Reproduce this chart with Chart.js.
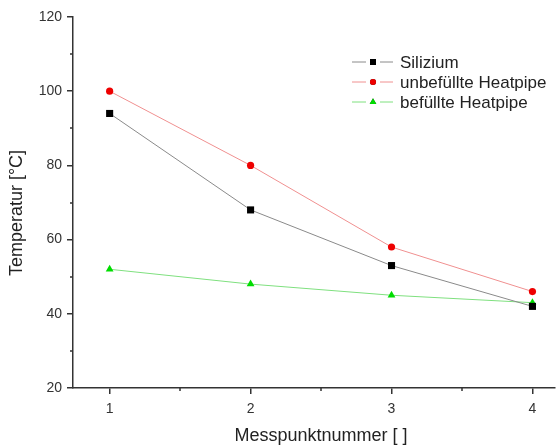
<!DOCTYPE html>
<html>
<head>
<meta charset="utf-8">
<script src="https://cdn.jsdelivr.net/npm/chart.js@4.4.0/dist/chart.umd.min.js"></script>
<style>
  html, body { margin: 0; padding: 0; background: #fff; }
  #wrap { width: 560px; height: 445px; }
</style>
</head>
<body>
<div id="wrap"><canvas id="chart" width="560" height="445"></canvas></div>
<script>
const messpunkte = [1, 2, 3, 4];
const silizium = [94, 68, 53, 42];
const unbefuellt = [100, 80, 58, 46];
const befuellt = [52, 48, 45, 43];
const seriesNames = ['Silizium', 'unbefüllte Heatpipe', 'befüllte Heatpipe'];
const xTicks = [1, 2, 3, 4];
const yTicks = [20, 40, 60, 80, 100, 120];
const xTitle = 'Messpunktnummer [ ]';
const yTitle = 'Temperatur [°C]';

const FONT = 'Liberation Sans, Arial, sans-serif';

function toPoints(values) {
    return values.map((v, i) => ({ x: messpunkte[i], y: v }));
}

// legend drawn inside the plot area, Origin-style
const innerLegend = {
    id: 'innerLegend',
    afterDraw(chart) {
        const ctx = chart.ctx;
        const x0 = 352, y0 = 62, step = 20;
        ctx.save();
        chart.data.datasets.forEach((ds, i) => {
            const y = y0 + i * step;
            const mid = x0 + 21;
            ctx.strokeStyle = ds.borderColor;
            ctx.lineWidth = 1;
            ctx.beginPath();
            ctx.moveTo(x0, y);
            ctx.lineTo(mid - 7, y);
            ctx.moveTo(mid + 7, y);
            ctx.lineTo(x0 + 41, y);
            ctx.stroke();
            Chart.helpers.drawPoint(ctx, {
                pointStyle: ds.pointStyle,
                radius: ds.pointRadius * 0.85,
                rotation: 0,
                borderWidth: 0
            }, mid, y);
            ctx.fillStyle = ds.pointBackgroundColor;
            ctx.fill();
            ctx.fillStyle = '#222';
            ctx.font = '17px ' + FONT;
            ctx.textBaseline = 'middle';
            ctx.textAlign = 'left';
            ctx.fillText(ds.label, 400, y + 1);
        });
        ctx.restore();
    }
};

// short minor ticks and the axis titles
const axisExtras = {
    id: 'axisExtras',
    afterDraw(chart) {
        const ctx = chart.ctx;
        const xs = chart.scales.x, ys = chart.scales.y;
        ctx.save();
        ctx.strokeStyle = '#333';
        ctx.lineWidth = 1.5;
        ctx.beginPath();
        [1.5, 2.5, 3.5].forEach(v => {
            const px = Math.round(xs.getPixelForValue(v));
            ctx.moveTo(px, ys.bottom);
            ctx.lineTo(px, ys.bottom + 3);
        });
        [30, 50, 70, 90, 110].forEach(v => {
            const py = Math.round(ys.getPixelForValue(v));
            ctx.moveTo(xs.left, py);
            ctx.lineTo(xs.left - 3, py);
        });
        ctx.stroke();

        ctx.fillStyle = '#222';
        ctx.font = '18px ' + FONT;
        ctx.textAlign = 'center';
        ctx.textBaseline = 'middle';
        ctx.fillText(xTitle, 321, 436);
        ctx.translate(17, 213);
        ctx.rotate(-Math.PI / 2);
        ctx.fillText(yTitle, 0, 0);
        ctx.restore();
    }
};

new Chart(document.getElementById('chart'), {
    type: 'line',
    data: {
        datasets: [
            {
                label: seriesNames[0],
                data: toPoints(silizium),
                borderColor: '#8a8a8a',
                borderWidth: 1,
                pointStyle: 'rect',
                pointRadius: 5,
                pointBackgroundColor: '#000',
                pointBorderWidth: 0
            },
            {
                label: seriesNames[1],
                data: toPoints(unbefuellt),
                borderColor: '#f09090',
                borderWidth: 1,
                pointStyle: 'circle',
                pointRadius: 3.6,
                pointBackgroundColor: '#ee0000',
                pointBorderWidth: 0
            },
            {
                label: seriesNames[2],
                data: toPoints(befuellt),
                borderColor: '#7fe07f',
                borderWidth: 1,
                pointStyle: 'triangle',
                pointRadius: 4.5,
                pointBackgroundColor: '#00dd00',
                pointBorderWidth: 0
            }
        ]
    },
    options: {
        responsive: false,
        animation: false,
        layout: { padding: { top: 17, right: 3, left: 0, bottom: 0 } },
        plugins: {
            legend: { display: false },
            tooltip: { enabled: false }
        },
        scales: {
            x: {
                type: 'linear',
                min: 0.74,
                max: 4.16,
                afterBuildTicks: scale => { scale.ticks = xTicks.map(v => ({ value: v })); },
                afterFit: scale => { scale.height = 57; },
                border: { display: true, color: '#333', width: 1.5 },
                grid: { drawOnChartArea: false, tickLength: 6, color: '#333', lineWidth: 1.5 },
                ticks: {
                    color: '#333',
                    padding: 7,
                    font: { family: FONT, size: 14 }
                }
            },
            y: {
                min: 20,
                max: 120,
                afterBuildTicks: scale => { scale.ticks = yTicks.map(v => ({ value: v })); },
                afterFit: scale => { scale.width = 73; },
                border: { display: true, color: '#333', width: 1.5 },
                grid: { drawOnChartArea: false, tickLength: 6, color: '#333', lineWidth: 1.5 },
                ticks: {
                    color: '#333',
                    padding: 5,
                    font: { family: FONT, size: 14 }
                }
            }
        }
    },
    plugins: [innerLegend, axisExtras]
});
</script>
</body>
</html>
